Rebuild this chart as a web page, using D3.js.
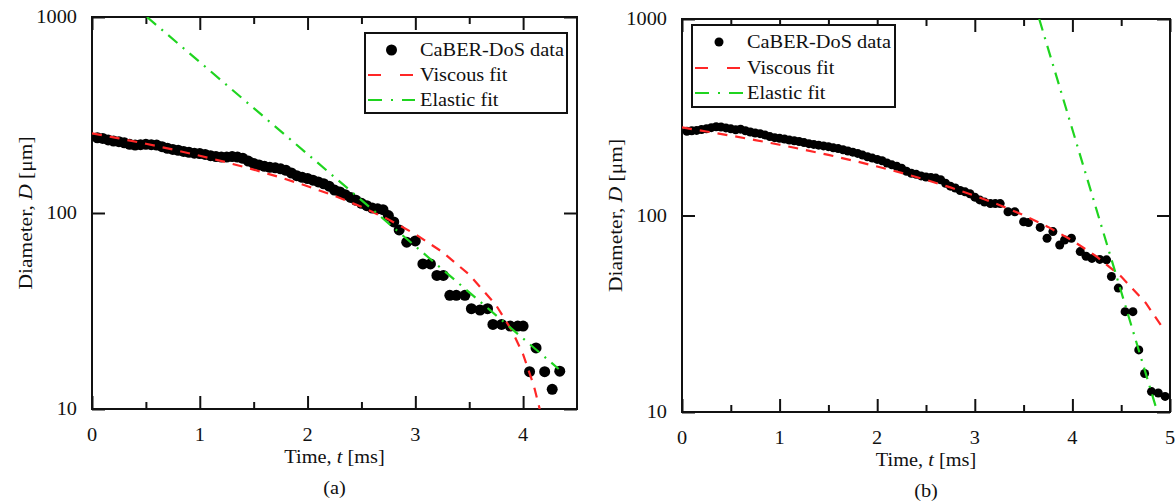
<!DOCTYPE html>
<html>
<head>
<meta charset="utf-8">
<script src="https://cdn.jsdelivr.net/npm/d3@7"></script>
<style>
html,body{margin:0;padding:0;background:#fff;}
svg{display:block;}
text{font-family:"Liberation Serif","Times New Roman",serif;fill:#111;}
</style>
</head>
<body>
<svg id="chart" width="1176" height="501"></svg>
<script>
// ---------- data ----------
const xTicksA = [0, 1, 2, 3, 4];
const xMinorA = [0.5, 1.5, 2.5, 3.5];
const xTicksB = [0, 1, 2, 3, 4, 5];
const xMinorB = [0.5, 1.5, 2.5, 3.5, 4.5];
const yTicks = [10, 100, 1000];
const legendLabels = ["CaBER-DoS data", "Viscous fit", "Elastic fit"];

// panel (a) CaBER-DoS data
const tA = [0.05,0.10,0.15,0.20,0.25,0.30,0.35,0.40,0.45,0.50,0.55,0.60,0.65,0.70,0.75,0.80,0.85,0.90,0.95,1.00,
  1.05,1.10,1.15,1.20,1.25,1.30,1.35,1.40,1.45,1.50,1.55,1.60,1.65,1.70,1.75,1.80,1.85,1.90,1.95,2.00,
  2.05,2.10,2.15,2.20,2.25,2.30,2.35,2.40,2.45,2.50,2.55,2.60,2.65,2.70,2.75,2.80,2.85,
  2.92,3.00,3.07,3.14,3.20,3.26,3.32,3.38,3.46,3.52,3.60,3.67,3.72,3.80,3.88,3.95,4.00,4.06,4.12,4.20,4.27,4.34];
const dA = [242,240,236,233,231,228,224,222,223,224,223,222,218,214,211,209,206,204,202,201,
  199,196,194,193,193,194,193,190,184,179,176,173,171,170,168,165,160,155,152,150,
  147,144,141,137,131,128,124,120,116,112,109,106,105,104,97,90,82,
  71,72,55,55,48,48,38,38,38,32.5,32,32.5,27,27,26.5,26.5,26.5,15.5,20.5,15.5,12.6,15.6];

// panel (a) fits
const tViscA = [0,0.25,0.5,0.75,1.0,1.25,1.5,1.75,2.0,2.25,2.5,2.75,3.0,3.25,3.5,3.75,3.9,4.0,4.1,4.15,4.2];
const dViscA = [255,240.3,225.5,210.8,196,181.3,166.5,151.8,137,122.3,107.5,92.8,78,63.3,48.5,33.8,24.9,19,13.1,10.2,7.2];
const tElasA = [0.51,1.0,2.0,3.0,4.0,4.33];
const dElasA = [1000,589,199.7,67.7,22.9,16.0];

// panel (b) CaBER-DoS data
const tB = [0.05,0.10,0.15,0.20,0.25,0.30,0.35,0.40,0.45,0.50,0.55,0.60,0.65,0.70,0.75,0.80,0.85,0.90,0.95,1.00,
  1.05,1.10,1.15,1.20,1.25,1.30,1.35,1.40,1.45,1.50,1.55,1.60,1.65,1.70,1.75,1.80,1.85,1.90,1.95,2.00,
  2.05,2.10,2.15,2.20,2.25,2.30,2.35,2.40,2.45,2.50,2.55,2.60,2.65,2.70,2.75,2.80,2.85,2.90,2.95,3.00,
  3.05,3.10,3.16,3.21,3.26,3.34,3.41,3.50,3.55,3.67,3.74,3.80,3.87,3.92,3.99,4.08,4.14,4.20,4.28,4.35,
  4.40,4.47,4.54,4.62,4.68,4.74,4.81,4.88,4.95];
const dB = [268,270,271,274,276,280,283,282,279,276,273,275,270,266,263,261,257,252,249,247,
  245,242,240,238,235,232,230,228,226,224,221,219,216,213,210,207,203,199,196,193,
  190,185,181,178,174,168,164,162,159,157,156,155,152,146,141,138,134,132,129,124,
  120,117,115,115,115,104.5,104.5,93,92,87,76.6,82.8,70.8,75,76.6,65.5,62,60.5,59.8,59.5,
  48.9,42.7,32.4,32.4,20.7,15.7,12.7,12.5,12.0];

// panel (b) fits
const tViscB = [0,0.25,0.5,0.75,1.0,1.25,1.5,1.75,2.0,2.25,2.5,2.75,3.0,3.25,3.5,3.75,4.0,4.25,4.5,4.75,4.95];
const dViscB = [280.6,267.7,254.9,242,229.1,216.2,203.4,190.5,177.6,164.7,151.9,139,126.1,113.2,100.4,87.5,74.6,61.7,48.9,36,25.7];
const tElasB = [3.66,4.0,4.5,4.86];
const dElasB = [1000,274,40.9,10.4];

// ---------- drawing ----------
const svg = d3.select("#chart");
const RED = "#ff2626", GREEN = "#1fd41f";
const SX = 1.13; // horizontal stretch of glyphs in the reference

function txt(g, x, y, str, opts = {}) {
  const t = g.append("text")
    .attr("transform", `translate(${x},${y})` + (opts.rot ? " rotate(-90)" : "") + ` scale(${SX},1)`)
    .attr("text-anchor", opts.anchor || "middle")
    .style("font-size", (opts.size || 18) + "px");
  if (opts.dy) t.attr("dy", opts.dy);
  return t;
}

function panel(cfg) {
  const g = svg.append("g");
  const x = d3.scaleLinear().domain([0, cfg.xmax]).range([cfg.left, cfg.right]);
  const y = d3.scaleLog().domain([10, 1000]).range([cfg.bottom, cfg.top]);
  const clipId = "clip" + cfg.id;
  svg.append("clipPath").attr("id", clipId).append("rect")
    .attr("x", cfg.left).attr("y", cfg.top)
    .attr("width", cfg.right - cfg.left).attr("height", cfg.bottom - cfg.top);

  // ticks (inward)
  const tickStyle = sel => { sel.select(".domain").remove(); sel.selectAll("line").attr("stroke", "#111").attr("stroke-width", 2); sel.selectAll("text").remove(); };
  g.append("g").attr("transform", `translate(0,${cfg.bottom})`).call(d3.axisBottom(x).tickValues(cfg.xt).tickSize(-13)).call(tickStyle);
  g.append("g").attr("transform", `translate(0,${cfg.bottom})`).call(d3.axisBottom(x).tickValues(cfg.xm).tickSize(-7)).call(tickStyle);
  g.append("g").attr("transform", `translate(0,${cfg.top})`).call(d3.axisTop(x).tickValues(cfg.xt).tickSize(-13)).call(tickStyle);
  g.append("g").attr("transform", `translate(0,${cfg.top})`).call(d3.axisTop(x).tickValues(cfg.xm).tickSize(-7)).call(tickStyle);
  g.append("g").attr("transform", `translate(${cfg.left},0)`).call(d3.axisLeft(y).tickValues(yTicks).tickSize(-13)).call(tickStyle);
  g.append("g").attr("transform", `translate(${cfg.right},0)`).call(d3.axisRight(y).tickValues(yTicks).tickSize(-13)).call(tickStyle);

  // frame
  g.append("rect").attr("x", cfg.left).attr("y", cfg.top)
    .attr("width", cfg.right - cfg.left).attr("height", cfg.bottom - cfg.top)
    .attr("fill", "none").attr("stroke", "#111").attr("stroke-width", 2);

  // tick labels
  cfg.xt.forEach(v => txt(g, x(v), cfg.bottom + 32, String(v)).text(v));
  yTicks.forEach(v => txt(g, cfg.left - 15, y(v), String(v), { anchor: "end", dy: "0.35em" }).text(v));

  // axis titles
  const xl = txt(g, (cfg.left + cfg.right) / 2, cfg.bottom + 54, "");
  xl.append("tspan").text("Time, ");
  xl.append("tspan").style("font-style", "italic").text("t");
  xl.append("tspan").text(" [ms]");
  const yl = txt(g, cfg.left - 60, (cfg.top + cfg.bottom) / 2, "", { rot: true, size: 19 });
  yl.append("tspan").text("Diameter, ");
  yl.append("tspan").style("font-style", "italic").text("D");
  yl.append("tspan").text(" [\u03bcm]");
  txt(g, (cfg.left + cfg.right) / 2, cfg.captionY, "").text(cfg.caption);

  // data points
  const pts = cfg.t.map((t, i) => [t, cfg.d[i]]);
  g.append("g").attr("clip-path", `url(#${clipId})`).selectAll("circle").data(pts).join("circle")
    .attr("cx", d => x(d[0])).attr("cy", d => y(d[1])).attr("r", cfg.r).attr("fill", "#000");

  // fit lines
  const line = d3.line().x(d => x(d[0])).y(d => y(d[1]));
  const visc = cfg.tv.map((t, i) => [t, cfg.dv[i]]);
  const elas = cfg.te.map((t, i) => [t, cfg.de[i]]);
  const lg = g.append("g").attr("clip-path", `url(#${clipId})`);
  lg.append("path").attr("d", line(visc)).attr("fill", "none").attr("stroke", RED)
    .attr("stroke-width", 2.2).attr("stroke-dasharray", "10,8");
  lg.append("path").attr("d", line(elas)).attr("fill", "none").attr("stroke", GREEN)
    .attr("stroke-width", 2.2).attr("stroke-dasharray", "12,7,2,7");

  // legend
  const L = cfg.legend;
  g.append("rect").attr("x", L.x0).attr("y", L.y0).attr("width", L.x1 - L.x0).attr("height", L.y1 - L.y0)
    .attr("fill", "#fff").attr("stroke", "#111").attr("stroke-width", 2);
  g.append("circle").attr("cx", (L.s0 + L.s1) / 2).attr("cy", L.rows[0]).attr("r", cfg.r).attr("fill", "#000");
  g.append("line").attr("x1", L.s0).attr("x2", L.s1).attr("y1", L.rows[1]).attr("y2", L.rows[1])
    .attr("stroke", RED).attr("stroke-width", 2.2).attr("stroke-dasharray", "13,19");
  g.append("line").attr("x1", L.s0).attr("x2", L.s1).attr("y1", L.rows[2]).attr("y2", L.rows[2])
    .attr("stroke", GREEN).attr("stroke-width", 2.2).attr("stroke-dasharray", "14,9,2,9");
  legendLabels.forEach((s, i) => txt(g, L.tx, L.rows[i], s, { anchor: "start", dy: "0.35em" }).text(s));
}

panel({
  id: "a", left: 92, right: 577, top: 17, bottom: 409, xmax: 4.5,
  xt: xTicksA, xm: xMinorA, t: tA, d: dA, tv: tViscA, dv: dViscA, te: tElasA, de: dElasA,
  r: 5.5, caption: "(a)", captionY: 494,
  legend: { x0: 365, x1: 567, y0: 33, y1: 113, rows: [50, 75, 100], s0: 368, s1: 415, tx: 420 }
});
panel({
  id: "b", left: 682, right: 1170, top: 19, bottom: 412, xmax: 5,
  xt: xTicksB, xm: xMinorB, t: tB, d: dB, tv: tViscB, dv: dViscB, te: tElasB, de: dElasB,
  r: 4.5, caption: "(b)", captionY: 497,
  legend: { x0: 692, x1: 895, y0: 25, y1: 107, rows: [42, 68, 93], s0: 695, s1: 743, tx: 747 }
});
</script>
</body>
</html>
